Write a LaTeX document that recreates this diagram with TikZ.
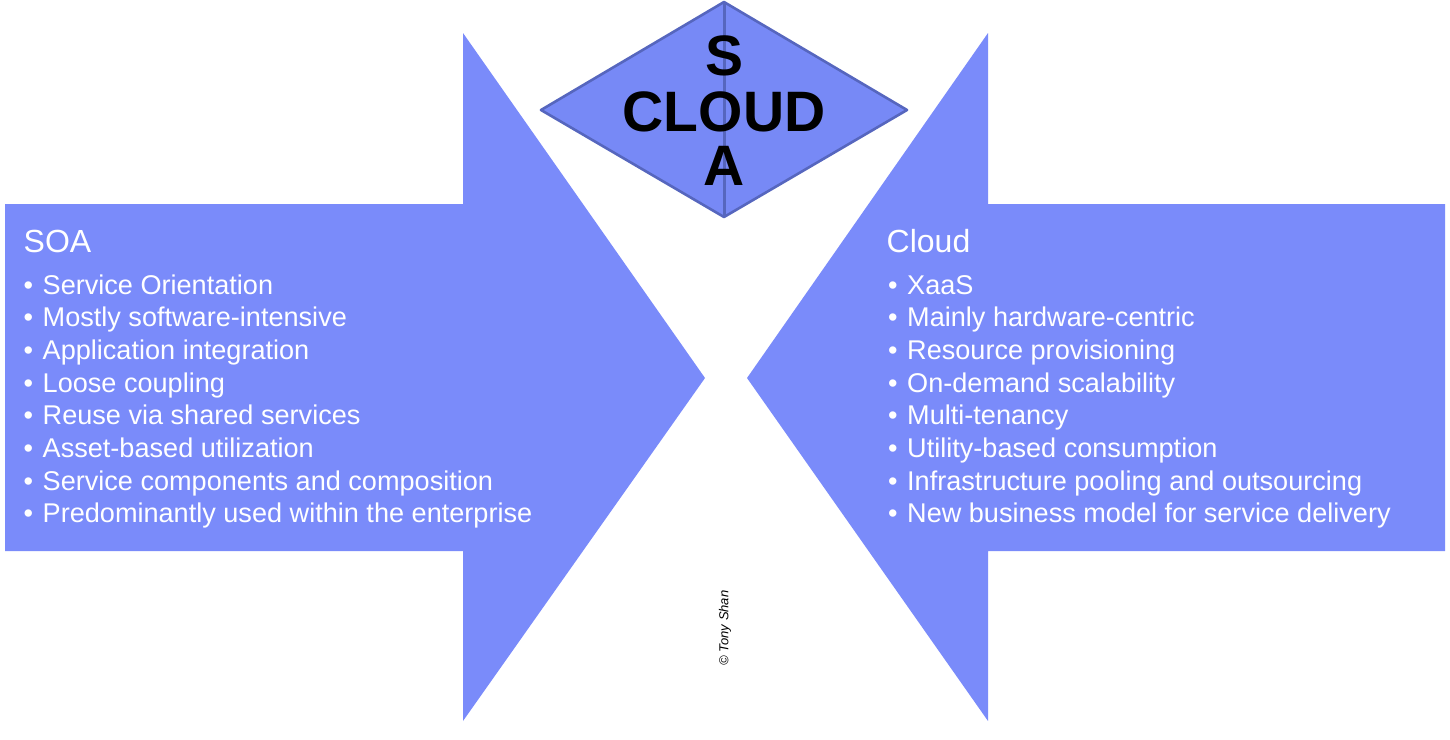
\documentclass[tikz,border=0pt]{standalone}
\usepackage{fontspec}
\setmainfont{Liberation Sans}

\definecolor{arrowblue}{RGB}{122,139,250}
\definecolor{diamondblue}{RGB}{119,137,246}
\definecolor{diamondline}{RGB}{86,102,190}

\begin{document}
\begin{tikzpicture}[x=1pt, y=-1pt,
    heading/.style={anchor=base west, inner sep=0pt, text=white, font=\fontsize{32}{38}\selectfont},
    item/.style={anchor=base west, inner sep=0pt, text=white, font=\fontsize{27.1}{32}\selectfont},
    letter/.style={anchor=base, inner sep=0pt, font=\fontsize{57}{60}\selectfont\bfseries}]
    \useasboundingbox (0,0) rectangle (1450,739);

    % === LEFT ARROW (SOA) ===
    \fill[arrowblue] (5,204) -- (463,204) -- (463,33) -- (705,378)
        -- (463,721) -- (463,551) -- (5,551) -- cycle;

    % === RIGHT ARROW (Cloud) ===
    \fill[arrowblue] (1445,204) -- (988,204) -- (988,33) -- (747,378)
        -- (988,721) -- (988,551) -- (1445,551) -- cycle;

    % === Diamond on top ===
    \coordinate (dleft) at (541,110);
    \coordinate (dtop) at (724,2);
    \coordinate (dright) at (907,110);
    \coordinate (dbot) at (724,217);
    \draw[line width=2.6pt, diamondline, fill=diamondblue, line join=round]
        (dleft) -- (dtop) -- (dright) -- (dbot) -- cycle;
    \draw[line width=3pt, diamondline] (dtop) -- (dbot);

    % letters crossing in the diamond
    \node[letter] (sletter) at (724,75) {S};
    \node[letter] (cloudword) at (724,131) {CLOUD};
    \node[letter] (aletter) at (724,185) {A};

    % === SOA side ===
    \node[heading] (soatitle) at (23.5,252) {SOA};
    \foreach \txt [count=\i from 0] in {Service Orientation, Mostly software-intensive,
        Application integration, Loose coupling, Reuse via shared services,
        Asset-based utilization, Service components and composition,
        Predominantly used within the enterprise}
        \node[item] (soa-\i) at (23.5,{294+32.7*\i}) {\makebox[19pt][l]{•}\txt};

    % === Cloud side ===
    \node[heading] (cloudtitle) at (886.5,252) {Cloud};
    \foreach \txt [count=\i from 0] in {XaaS, Mainly hardware-centric,
        Resource provisioning, On-demand scalability, Multi-tenancy,
        Utility-based consumption, Infrastructure pooling and outsourcing,
        New business model for service delivery}
        \node[item] (cloud-\i) at (888,{294+32.7*\i}) {\makebox[19pt][l]{•}\txt};

    % copyright note
    \node[rotate=90, inner sep=0pt, font=\fontsize{13}{15}\selectfont\itshape] (copy) at (725,628) {© Tony Shan};

\end{tikzpicture}
\end{document}
